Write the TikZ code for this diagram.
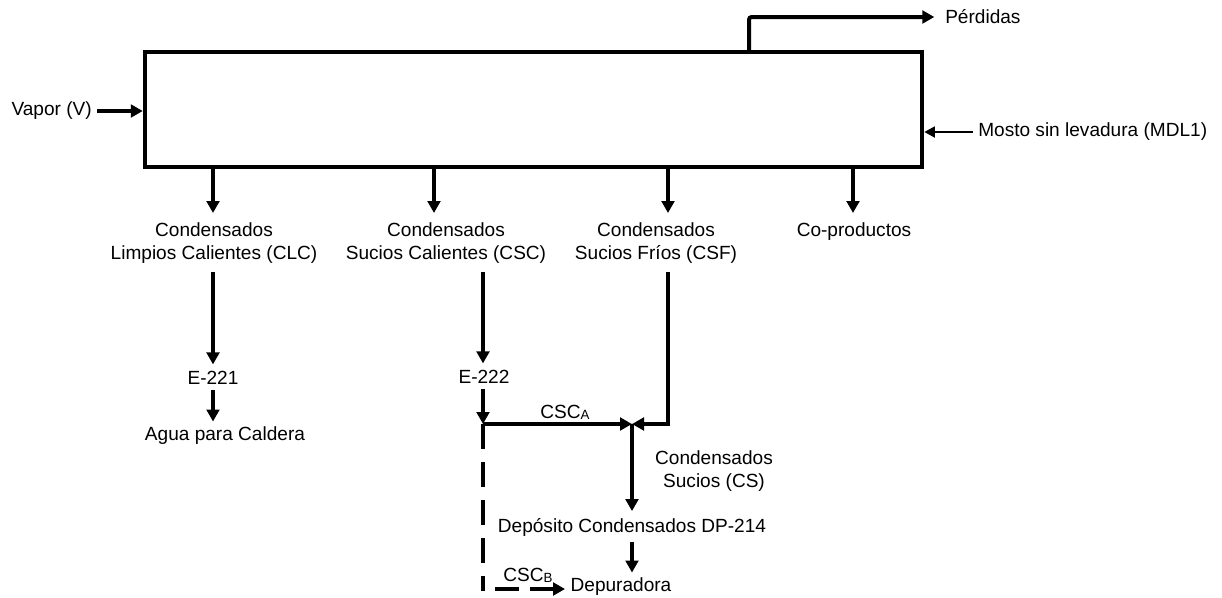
\documentclass[tikz,border=0pt]{standalone}
\usepackage{fontspec}
\setmainfont{Liberation Sans}
\usetikzlibrary{arrows.meta}
\begin{document}
\begin{tikzpicture}[x=0.75pt,y=-0.75pt,
  lbl/.style={font=\fontsize{14.3}{17.25}\selectfont, inner sep=0pt, align=center},
  arr/.style={line width=3pt, -{Triangle[length=9pt,width=9.5pt]}},
  arrthin/.style={line width=2pt, -{Triangle[length=8pt,width=8pt]}},
  plain/.style={line width=3pt},
  dashedline/.style={line width=3pt, dash pattern=on 18.75pt off 9.75pt}]
\useasboundingbox (0,0) rectangle (1222,597);
% main box
\node (box) [draw, line width=3.3pt, minimum width=582.75pt, minimum height=86.25pt, inner sep=0pt] at (533.5,109.5) {};
% inputs / outputs on box
\node[lbl, anchor=east] (vapor) at (92,111) {Vapor (V)};
\draw[arr] ([xshift=4pt]vapor.east) -- (vapor.east -| box.west);
\node[lbl, anchor=west] (mosto) at (978,132) {Mosto sin levadura (MDL1)};
\draw[arrthin] ([xshift=-4pt]mosto.west) -- (mosto.west -| box.east);
\node[lbl, anchor=west] (perd) at (945,17) {Pérdidas};
\coordinate (xp) at (749,0);
\draw[arr, rounded corners=2pt] (box.north -| xp) |- ([xshift=-8pt]perd.west);
% product streams
\node[lbl] (clc) at (214,243) {Condensados\\Limpios Calientes (CLC)};
\node[lbl] (csc) at (446,243) {Condensados\\Sucios Calientes (CSC)};
\node[lbl] (csf) at (656,243) {Condensados\\Sucios Fríos (CSF)};
\node[lbl] (cop) at (854,232) {Co-productos};
\coordinate (x1) at (213,213);
\coordinate (x2) at (434,213);
\coordinate (x3) at (668,213);
\coordinate (x4) at (853,213);
\draw[arr] (box.south -| x1) -- (x1);
\draw[arr] (box.south -| x2) -- (x2);
\draw[arr] (box.south -| x3) -- (x3);
\draw[arr] (box.south -| x4) -- (x4);
% CLC branch
\node[lbl] (e221) at (213,378) {E-221};
\node[lbl] (agua) at (225,436) {Agua para Caldera};
\coordinate (c1) at (213,272);
\draw[arr] (c1) -- ([yshift=5pt]e221.north);
\draw[arr] ([yshift=-4pt]e221.south) -- ([yshift=4pt]agua.north -| e221);
% CSC branch
\coordinate (c2) at (483,272);
\node[lbl] (e222) at (484,377) {E-222};
\coordinate (j1) at (483,424);
\coordinate (j2) at (632,424);
\draw[arr] (c2) -- ([yshift=5pt]e222.north -| c2);
\draw[arr] ([yshift=-4pt]e222.south -| c2) -- (j1);
\draw[arr] (j1) -- (j2);
\node[lbl] (csca) at (565,412) {CSC\raisebox{-0.6pt}{\fontsize{10}{12}\selectfont A}};
% CSF branch
\coordinate (c3) at (668,272);
\draw[arr] (c3) |- (j2);
% CS
\node[lbl] (cs) at (714,471) {Condensados\\Sucios (CS)};
\node[lbl] (dep) at (632,527) {Depósito Condensados DP-214};
\draw[arr] (j2) -- ([yshift=5pt]dep.north -| j2);
\node[lbl] (depu) at (621,587) {Depuradora};
\draw[arr] ([yshift=-4pt]dep.south -| j2) -- ([yshift=4pt]depu.north -| j2);
% dashed CSC_B
\coordinate (b1) at (483,591);
\coordinate (b2) at (495,589);
\coordinate (b3) at (519,589);
\coordinate (b4) at (530,589);
\draw[dashedline] (j1) -- (b1);
\draw[plain] (b2) -- (b3);
\draw[arr] (b4) -- ([xshift=-4pt]depu.west |- b4);
\node[lbl] (cscb) at (528,575) {CSC\raisebox{-0.6pt}{\fontsize{10}{12}\selectfont B}};
\end{tikzpicture}
\end{document}
